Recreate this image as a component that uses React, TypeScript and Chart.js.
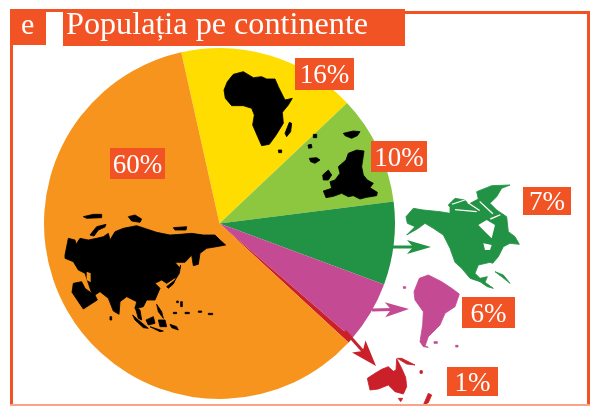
import React, { useEffect, useRef } from "react";
import { Chart, registerables } from "chart.js";

Chart.register(...registerables);

// Data
const continents = ["Africa", "Europa", "America de Nord", "America de Sud", "Australia", "Asia"];
const shares = [16.45, 10.05, 7.65, 5.7, 0.5, 59.65];
const shareLabels = ["16%", "10%", "7%", "6%", "1%", "60%"];
const sliceColors = ["#FFDD00", "#8DC63F", "#229245", "#C44B93", "#C9202A", "#F7941E"];
const titleText = "Populația pe continente";
const panelLetter = "e";

const ORANGE = "#F25325";
const FONT = '"Liberation Serif", "Times New Roman", serif';

// Label boxes, same order as shareLabels: x0, y0, x1, y1
const labelBoxes = [
  [295, 58, 354, 90],
  [371, 141, 427, 172],
  [523, 187, 571, 215],
  [462, 297, 515, 328],
  [447, 367, 498, 396],
  [110, 148, 165, 179],
];

type Pts = number[];
type Shape = { o: [number, number]; color: string; holeColor?: string; polys: Pts[]; holes?: Pts[] };

// Decorative continent silhouettes, traced at 3x with a local origin
const silhouettes: Shape[] = [
  {
    o: [60, 205], color: "#000000", holeColor: "#F7941E",
    polys: [
      [15,150,20,125,25,100,45,105,48,118,60,100,85,105,110,100,130,95,145,85,150,105,165,80,190,70,230,62,260,72,290,82,330,90,360,88,395,85,430,90,465,90,480,105,497,120,470,125,440,130,420,145,415,178,400,182,395,150,375,172,345,172,360,190,350,215,320,235,305,225,285,235,300,250,285,285,260,285,250,305,225,312,230,290,200,275,180,290,177,328,160,318,145,280,120,260,105,270,112,285,70,312,55,290,36,262,40,235,65,230,75,250,95,265,85,235,75,205,55,195,40,170,15,160],
      [70,35,100,28,125,28,125,38,80,40],
      [90,90,110,65,138,58,135,66,115,75,102,93],
      [205,35,225,30,245,42,240,52,215,48],
      [340,68,380,65,378,75,345,75],
      [320,245,345,225,358,205,362,180,352,212,340,237,325,250],
      [218,330,235,345,265,370,250,368,225,345],
      [258,345,280,335,285,355,265,360],
      [290,298,305,320,310,340,295,320],
      [270,365,310,378,300,380],
      [295,345,315,345,320,365,300,365],
      [330,358,350,365,355,375,335,368],
      [225,305,235,340,245,345,240,315],
      [150,335,155,335,155,345,150,345],
      [350,288,355,288,355,293,350,293],
      [362,290,367,290,367,305,362,305],
      [340,322,350,322,350,326,340,326],
      [375,322,388,322,388,326,375,326],
      [415,318,425,318,425,322,415,322],
      [445,325,458,325,458,329,445,329],
    ],
    holes: [[80,200,92,205,92,232,80,225]],
  },
  {
    o: [220, 65], color: "#000000",
    polys: [
      [12,75,22,50,40,28,70,20,100,38,125,35,140,42,165,42,175,65,195,105,217,100,205,120,187,142,190,175,167,212,148,238,125,242,113,215,98,180,103,150,95,130,70,122,35,122,16,100],
      [195,205,208,172,215,175,212,200,200,215],
      [175,255,185,255,185,263,176,263],
      [310,378,335,370,330,350,345,345,360,325,355,305,378,285,385,265,410,255,432,258,428,285,425,305,430,330,442,345,460,355,450,368,472,382,470,392,440,397,420,402,400,392,385,395,365,385,340,394,318,398],
      [268,280,290,278,300,285,285,295,272,290],
      [308,330,325,315,335,330,325,345,310,345],
      [370,205,400,198,420,200,412,212,395,220,375,212],
      [264,240,274,238,276,248,266,250],
      [280,208,290,208,290,218,280,218],
    ],
  },
  {
    o: [400, 175], color: "#229245", holeColor: "#FFFFFF",
    polys: [
      [18,125,40,100,70,105,120,110,150,115,150,97,145,90,165,70,195,75,205,88,235,72,230,50,275,32,330,30,305,40,290,65,270,85,290,105,320,125,325,170,345,185,358,208,330,205,310,215,295,245,278,265,270,262,235,270,225,295,240,310,262,305,255,322,280,340,262,335,240,320,210,310,185,280,165,262,150,220,130,180,100,160,75,145,55,160,20,180,45,155,22,145],
      [285,290,310,300,330,325,305,305],
    ],
    holes: [
      [235,150,260,135,285,150,275,190,255,170],
      [250,205,275,210,270,225,255,225],
      [165,102,230,108,230,112,165,106],
      [205,82,240,105,238,108,203,85],
      [240,78,280,115,277,118,238,81],
      [155,86,205,70,206,73,157,89],
      [270,130,300,118,302,121,272,134],
    ],
  },
  {
    o: [360, 270], color: "#C44B93",
    polys: [
      [162,65,178,25,205,15,245,35,275,55,298,72,285,110,255,130,240,165,205,200,195,228,205,232,190,230,180,215,188,165,190,125,165,90],
      [222,215,232,215,232,220,222,220],
      [130,50,137,50,137,55,130,55],
      [287,226,294,226,294,231,287,231],
    ],
  },
  {
    o: [360, 270], color: "#C9202A",
    polys: [
      [22,325,45,310,65,298,85,290,100,304,108,300,110,266,125,295,137,322,140,350,130,372,105,365,85,345,55,357,30,360],
      [115,385,128,385,122,395],
      [190,405,205,370,215,375,205,398],
      [112,265,125,265,165,285,140,282],
      [180,302,187,302,187,310,180,310],
    ],
  },
];

// Decorative arrows: shaft start, tip, colour, head length and half width
const arrows = [
  { from: [393, 247], to: [431, 247], color: "#229245", head: 24, half: 7, notch: 6, w: 3 },
  { from: [372, 310], to: [409, 309], color: "#C44B93", head: 24, half: 7.5, notch: 6, w: 3 },
  { from: [345, 331], to: [376, 366], color: "#C9202A", head: 26, half: 9, notch: 6, w: 3 },
];

function tracePoly(c: CanvasRenderingContext2D, p: Pts) {
  c.moveTo(p[0], p[1]);
  for (let i = 2; i < p.length; i += 2) c.lineTo(p[i], p[i + 1]);
  c.closePath();
}

const overlay = {
  id: "overlay",
  afterDraw(chart: Chart) {
    const c = chart.ctx;
    c.save();

    // Frame
    c.fillStyle = ORANGE;
    c.fillRect(10, 9, 3, 397);
    c.fillRect(587, 11, 3, 394);
    c.fillRect(405, 11, 185, 3);
    c.fillRect(10, 9, 395, 3);
    c.fillStyle = "#F9A48A";
    c.fillRect(10, 404, 580, 2);

    // Heading bands
    c.fillStyle = ORANGE;
    c.fillRect(10, 9, 36, 36);
    c.fillRect(63, 9, 342, 37);

    // Silhouettes
    for (const s of silhouettes) {
      c.save();
      c.beginPath();
      c.rect(13, 14, 574, 390);
      c.clip();
      c.translate(s.o[0], s.o[1]);
      c.scale(1 / 3, 1 / 3);
      c.filter = "blur(0.5px)";
      c.fillStyle = s.color;
      c.strokeStyle = s.color;
      c.lineWidth = 2.5;
      c.lineJoin = "round";
      c.beginPath();
      s.polys.forEach((p) => tracePoly(c, p));
      c.fill("nonzero");
      c.stroke();
      if (s.holes && s.holeColor) {
        c.fillStyle = s.holeColor;
        c.beginPath();
        s.holes.forEach((p) => tracePoly(c, p));
        c.fill();
      }
      c.restore();
    }

    // Arrows
    for (const a of arrows) {
      const dx = a.to[0] - a.from[0];
      const dy = a.to[1] - a.from[1];
      const ang = Math.atan2(dy, dx);
      const len = Math.hypot(dx, dy);
      c.save();
      c.translate(a.from[0], a.from[1]);
      c.rotate(ang);
      c.fillStyle = a.color;
      c.fillRect(0, -a.w / 2, len - a.head + a.notch + 1, a.w);
      c.beginPath();
      c.moveTo(len, 0);
      c.lineTo(len - a.head, -a.half);
      c.lineTo(len - a.head + a.notch, 0);
      c.lineTo(len - a.head, a.half);
      c.closePath();
      c.fill();
      c.restore();
    }

    // Percentage labels
    c.textAlign = "center";
    c.textBaseline = "alphabetic";
    c.font = `27px ${FONT}`;
    shareLabels.forEach((t, i) => {
      const [x0, y0, x1, y1] = labelBoxes[i];
      c.fillStyle = ORANGE;
      c.fillRect(x0, y0, x1 - x0, y1 - y0);
      c.fillStyle = "#FFFFFF";
      c.fillText(t, (x0 + x1) / 2, (y0 + y1) / 2 + 9);
    });

    // Heading text
    c.textAlign = "left";
    c.fillStyle = "#FFFFFF";
    c.font = `30px ${FONT}`;
    c.fillText(panelLetter, 21, 34);
    c.font = `32.2px ${FONT}`;
    c.fillText(titleText, 66, 34);

    c.restore();
  },
};

export default function App() {
  const ref = useRef<HTMLCanvasElement>(null);
  useEffect(() => {
    const chart = new Chart(ref.current!, {
      type: "pie",
      data: {
        labels: continents,
        datasets: [{ data: shares, backgroundColor: sliceColors, borderWidth: 0 }],
      },
      options: {
        animation: false,
        responsive: false,
        rotation: -12.6,
        layout: { padding: { left: 44, right: 199, top: 48, bottom: 7 } },
        plugins: { legend: { display: false }, title: { display: false }, tooltip: { enabled: false } },
      },
      plugins: [overlay],
    });
    return () => chart.destroy();
  }, []);
  return (
    <div style={{ position: "fixed", left: 0, top: 0, width: 594, height: 406, background: "#FFFFFF" }}>
      <canvas ref={ref} width={594} height={406} style={{ display: "block" }} />
    </div>
  );
}
